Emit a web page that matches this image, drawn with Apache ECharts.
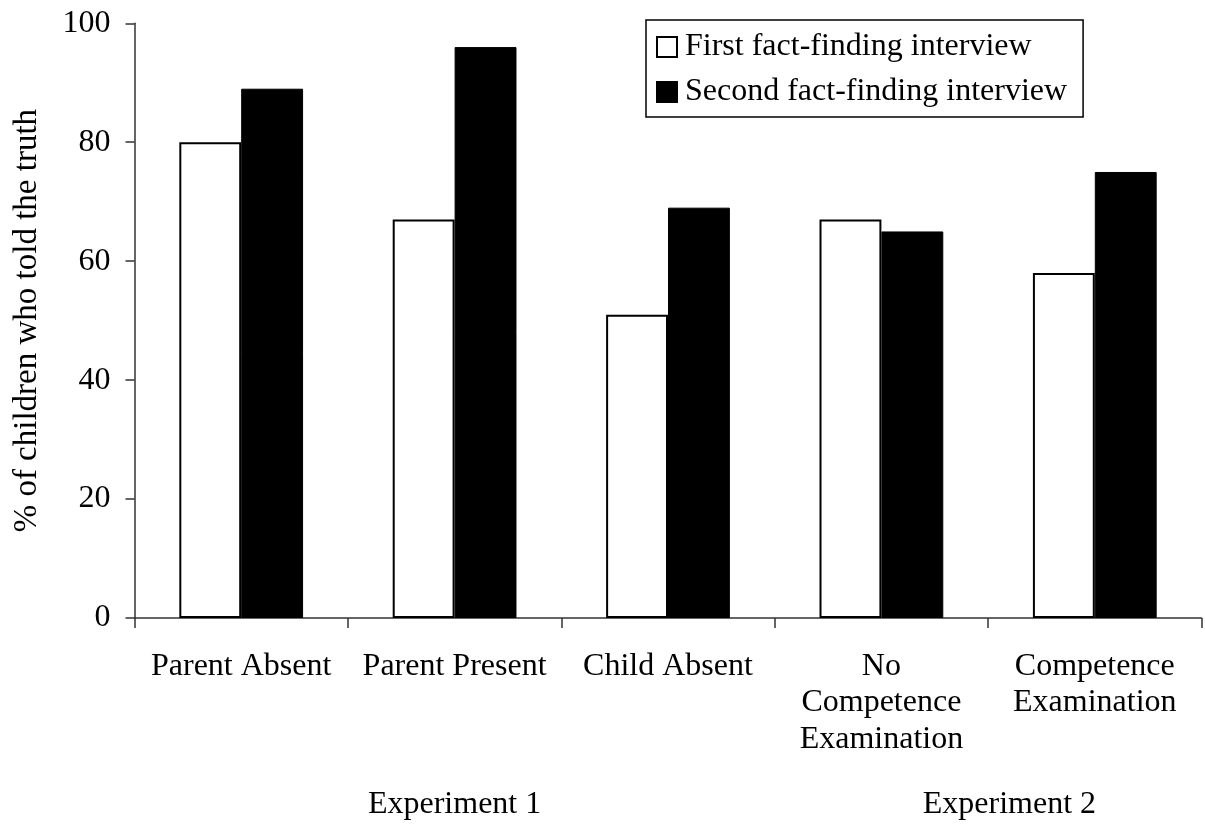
<!DOCTYPE html>
<html>
<head>
<meta charset="utf-8">
<script src="https://cdn.jsdelivr.net/npm/echarts@6/dist/echarts.min.js"></script>
<style>
  html, body { margin: 0; padding: 0; background: #fff; }
  #chart { width: 1205px; height: 825px; }
</style>
</head>
<body>
<div id="chart"></div>
<script>
const categories = ['Parent Absent', 'Parent Present', 'Child Absent', 'No\nCompetence\nExamination', 'Competence\nExamination'];
const firstInterview = [80, 67, 51, 67, 58];
const secondInterview = [89, 96, 69, 65, 75];
const seriesNames = ['First fact-finding interview', 'Second fact-finding interview'];
const yTicks = [0, 20, 40, 60, 80, 100];
const groupLabels = ['Experiment 1', 'Experiment 2'];
const groupPositions = [1.5, 4.1]; // in category-width units from left edge of axis

const FONT = '"Liberation Serif", "Times New Roman", serif';
const chart = echarts.init(document.getElementById('chart'), null, { renderer: 'canvas' });

chart.setOption({
  backgroundColor: '#fff',
  animation: false,
  textStyle: { fontFamily: FONT, color: '#000' },
  grid: { left: 134.5, right: 3.5, top: 23.3, bottom: 207, containLabel: false },
  legend: {
    orient: 'vertical',
    left: 646,
    top: 20,
    padding: [11, 16, 9, 10],
    itemWidth: 20,
    itemHeight: 20,
    itemGap: 13,
    icon: 'rect',
    borderColor: '#000',
    borderWidth: 1.5,
    backgroundColor: '#fff',
    textStyle: { fontFamily: FONT, fontSize: 32, color: '#000', lineHeight: 32, padding: [0, 0, 0, 3] },
    data: seriesNames
  },
  xAxis: [
    {
      type: 'category',
      data: categories,
      axisLine: { lineStyle: { color: '#333', width: 1.5 } },
      axisTick: { show: true, length: 10, lineStyle: { color: '#333', width: 1.5 } },
      axisLabel: { fontFamily: FONT, fontSize: 32, color: '#000', lineHeight: 36.5, margin: 30, interval: 0 }
    },
    {
      type: 'value',
      position: 'bottom',
      min: 0,
      max: 5,
      axisLine: { show: false },
      axisTick: { show: false },
      splitLine: { show: false },
      axisLabel: {
        fontFamily: FONT, fontSize: 32, color: '#000', margin: 171,
        customValues: groupPositions,
        formatter: function (v) {
          for (let i = 0; i < groupPositions.length; i++) {
            if (Math.abs(groupPositions[i] - v) < 1e-6) return groupLabels[i];
          }
          return '';
        }
      }
    }
  ],
  yAxis: {
    type: 'value',
    min: 0,
    max: 100,
    interval: 20,
    name: '% of children who told the truth',
    nameLocation: 'middle',
    nameRotate: 90,
    nameGap: 91,
    nameTextStyle: { fontFamily: FONT, fontSize: 33, color: '#000' },
    axisLine: { show: true, lineStyle: { color: '#333', width: 1.5 } },
    axisTick: { show: true, length: 9, lineStyle: { color: '#333', width: 1.5 } },
    splitLine: { show: false },
    axisLabel: { fontFamily: FONT, fontSize: 32, color: '#000', margin: 24 }
  },
  series: [
    {
      name: seriesNames[0],
      type: 'bar',
      data: firstInterview,
      barGap: '0%',
      barCategoryGap: '42%',
      itemStyle: { color: '#fff', borderColor: '#000', borderWidth: 2 }
    },
    {
      name: seriesNames[1],
      type: 'bar',
      data: secondInterview,
      barGap: '0%',
      barCategoryGap: '42%',
      itemStyle: { color: '#000', borderColor: '#000', borderWidth: 1 }
    }
  ]
});
</script>
</body>
</html>
